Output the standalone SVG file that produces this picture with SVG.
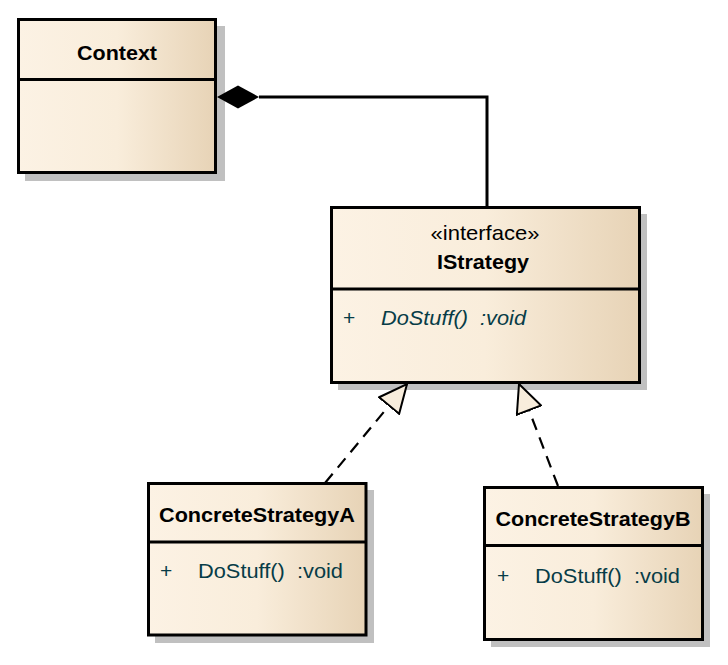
<svg xmlns="http://www.w3.org/2000/svg" width="728" height="665" viewBox="0 0 728 665">
  <defs>
    <linearGradient id="fill" x1="0" y1="0" x2="1" y2="0">
      <stop offset="0" stop-color="#fcf2e4"/>
      <stop offset="0.5" stop-color="#f9eddb"/>
      <stop offset="1" stop-color="#e7d3b6"/>
    </linearGradient>
    <marker id="realize" markerUnits="userSpaceOnUse" viewBox="0 0 30 28" markerWidth="30" markerHeight="28" refX="29" refY="14" orient="auto">
      <path d="M1,1 L29,14 L1,27 Z" fill="#f8eddc" stroke="#000" stroke-width="2" stroke-dasharray="none" stroke-linejoin="miter"/>
    </marker>
  </defs>
  <style>
    .shadow { fill: #c0c0c0; }
    .box { fill: url(#fill); stroke: #000; stroke-width: 3; }
    .div { stroke: #000; stroke-width: 3; }
    .title { font-family: "Liberation Sans", Arial, sans-serif; font-weight: bold; font-size: 21px; fill: #000; text-anchor: middle; }
    .stereo { font-family: "Liberation Sans", Arial, sans-serif; font-size: 21px; fill: #000; text-anchor: middle; }
    .member { font-family: "Liberation Sans", Arial, sans-serif; font-size: 21px; fill: #073c47; white-space: pre; }
    .abstract { font-style: italic; }
    .assoc { fill: none; stroke: #000; stroke-width: 3; }
    .real { fill: none; stroke: #000; stroke-width: 2.2; stroke-dasharray: 12 8; }
  </style>
  <rect width="728" height="665" fill="#fff"/>

  <g id="Context">
    <rect class="shadow" x="25" y="26" width="200" height="155"/>
    <rect class="box" x="18.5" y="19.5" width="197" height="153"/>
    <line class="div" x1="18.5" y1="79.5" x2="215.5" y2="79.5"/>
    <text class="title" x="117" y="60" textLength="80" lengthAdjust="spacingAndGlyphs">Context</text>
  </g>

  <g id="IStrategy">
    <rect class="shadow" x="338" y="214" width="309" height="176"/>
    <rect class="box" x="331.5" y="207.5" width="308" height="175"/>
    <line class="div" x1="331.5" y1="289" x2="639.5" y2="289"/>
    <text class="stereo" x="485" y="240" textLength="109" lengthAdjust="spacingAndGlyphs">«interface»</text>
    <text class="title" x="483" y="269" textLength="92" lengthAdjust="spacingAndGlyphs">IStrategy</text>
    <text class="member" x="343" y="325">+</text>
    <text class="member abstract" x="381" y="325" xml:space="preserve" textLength="145" lengthAdjust="spacingAndGlyphs">DoStuff()  :void</text>
  </g>

  <g id="ConcreteStrategyA">
    <rect class="shadow" x="155" y="490" width="219" height="153"/>
    <rect class="box" x="148.5" y="483.5" width="217.5" height="151.5"/>
    <line class="div" x1="148.5" y1="542" x2="366" y2="542"/>
    <text class="title" x="257" y="522" textLength="196" lengthAdjust="spacingAndGlyphs">ConcreteStrategyA</text>
    <text class="member" x="160" y="578">+</text>
    <text class="member" x="198" y="578" xml:space="preserve" textLength="145" lengthAdjust="spacingAndGlyphs">DoStuff()  :void</text>
  </g>

  <g id="ConcreteStrategyB">
    <rect class="shadow" x="491" y="494" width="219" height="153"/>
    <rect class="box" x="484.5" y="487.5" width="218" height="152"/>
    <line class="div" x1="484.5" y1="545.5" x2="702.5" y2="545.5"/>
    <text class="title" x="593" y="526" textLength="195" lengthAdjust="spacingAndGlyphs">ConcreteStrategyB</text>
    <text class="member" x="497" y="583">+</text>
    <text class="member" x="535" y="583" xml:space="preserve" textLength="145" lengthAdjust="spacingAndGlyphs">DoStuff()  :void</text>
  </g>

  <g id="connectors">
    <polyline class="assoc" points="259,97 487,97 487,206"/>
    <polygon points="217,97 238,85.5 259,97 238,108.5" fill="#000"/>
    <line class="real" x1="325" y1="483" x2="407" y2="384" marker-end="url(#realize)"/>
    <line class="real" x1="558" y1="486" x2="519" y2="384" marker-end="url(#realize)"/>
  </g>
</svg>
